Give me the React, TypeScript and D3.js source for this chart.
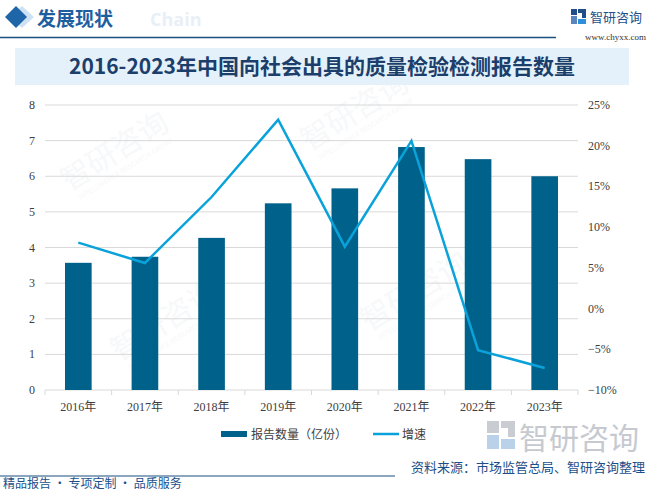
import React from "react";
import * as d3 from "d3";

const categories = ["2016年", "2017年", "2018年", "2019年", "2020年", "2021年", "2022年", "2023年"];
const reportCounts = [3.57, 3.74, 4.27, 5.24, 5.66, 6.82, 6.48, 6.0];
const growthRates = [8.1, 5.6, 13.7, 23.2, 7.6, 20.6, -5.1, -7.3];
const leftTicks = [0, 1, 2, 3, 4, 5, 6, 7, 8];
const rightTicks = [-10, -5, 0, 5, 10, 15, 20, 25];
const seriesNames = ["报告数量（亿份）", "增速"];

const W = 649;
const H = 493;
const BAR = "#00628a";
const LINE = "#0aa2da";
const NAVY = "#1b4f80";
const CJK = "'Noto Sans CJK SC', 'Noto Sans', sans-serif";
const AXISFONT = "'Liberation Serif', 'Noto Sans CJK SC', serif";

export default function App() {
  const x = d3.scaleBand<string>().domain(categories).range([45, 578]).paddingInner(0.6).paddingOuter(0.3);
  const yL = d3.scaleLinear().domain([0, 8]).range([390, 105]);
  const yR = d3.scaleLinear().domain([-10, 25]).range([390, 105]);
  const step = x.step();
  const line = d3
    .line<number>()
    .x((_, i) => (x(categories[i]) as number) + x.bandwidth() / 2)
    .y((d) => yR(d));

  const watermarks = [
    [120, 160], [360, 120], [170, 330], [420, 300],
  ];

  return (
    <svg width={W} height={H} style={{ position: "absolute", left: 0, top: 0, background: "#fff" }}>
      {/* watermarks */}
      {watermarks.map(([wx, wy], i) => (
        <g key={i} transform={`translate(${wx},${wy}) rotate(-32)`} opacity={0.45}>
          <text fontFamily={CJK} fontSize={30} fill="#eef1f5" textAnchor="middle">智研咨询</text>
          <text y={13} fontFamily={CJK} fontSize={7} fill="#eef1f5" textAnchor="middle">INTELLIGENCE RESEARCH GROUP</text>
        </g>
      ))}

      {/* header */}
      <g>
        <path d="M22,6 L34,17 L22,28 L10,17 Z" fill="#cfe2f3" />
        <path d="M16,6 L27,17 L16,28 L5,17 Z" fill="#1f66a8" />
        <text x={150} y={26} fontFamily="'Open Sans', sans-serif" fontWeight={700} fontSize={18} fill="#e9eff6">Chain</text>
        <text x={37} y={26} fontFamily={CJK} fontWeight={700} fontSize={19} fill="#1f5e9e">发展现状</text>
        <line x1={0} x2={556} y1={37.5} y2={37.5} stroke={NAVY} strokeWidth={1.5} />
        {/* logo */}
        <g transform="translate(571,9)">
          <rect x={0} y={0} width={6} height={6} fill="#1f4f86" />
          <rect x={0} y={7} width={6} height={8} fill="#5a86bd" />
          <rect x={7} y={0} width={8} height={4} fill="#1f4f86" />
          <rect x={11} y={4} width={4} height={5} fill="#1f4f86" />
          <rect x={7} y={10} width={8} height={5} fill="#2f8fd8" />
        </g>
        <text x={590} y={22} fontFamily={CJK} fontSize={13} fill="#1f4f86">智研咨询</text>
        <text x={646} y={40} textAnchor="end" fontFamily={AXISFONT} fontSize={9} fill="#333">www.chyxx.com</text>
      </g>

      {/* title */}
      <rect x={15} y={48} width={614} height={37} fill="#e5f1fa" />
      <text x={322} y={74} textAnchor="middle" fontFamily={CJK} fontWeight={700} fontSize={21} fill="#1c3e6b">
        2016-2023年中国向社会出具的质量检验检测报告数量
      </text>

      {/* gridlines */}
      {leftTicks.map((t) => (
        <line key={t} x1={45} x2={578} y1={yL(t)} y2={yL(t)} stroke="#d9d9d9" strokeWidth={1} />
      ))}
      {/* x tick marks */}
      {d3.range(categories.length + 1).map((i) => (
        <line key={i} x1={45 + i * step} x2={45 + i * step} y1={390} y2={395} stroke="#d9d9d9" />
      ))}

      {/* left axis labels */}
      {leftTicks.map((t) => (
        <text key={t} x={35} y={yL(t) + 4} textAnchor="end" fontFamily={AXISFONT} fontSize={12} fill="#404040">
          {t}
        </text>
      ))}
      {/* right axis labels */}
      {rightTicks.map((t) => (
        <text key={t} x={588} y={yR(t) + 4} textAnchor="start" fontFamily={AXISFONT} fontSize={12} fill="#404040">
          {t < 0 ? `−${Math.abs(t)}%` : `${t}%`}
        </text>
      ))}
      {/* x labels */}
      {categories.map((c) => (
        <text key={c} x={(x(c) as number) + x.bandwidth() / 2} y={411} textAnchor="middle" fontFamily={AXISFONT} fontSize={12} fill="#404040">
          {c}
        </text>
      ))}

      {/* bars */}
      {reportCounts.map((v, i) => (
        <rect key={i} x={x(categories[i])} y={yL(v)} width={x.bandwidth()} height={yL(0) - yL(v)} fill={BAR} />
      ))}

      {/* line */}
      <path d={line(growthRates) || ""} fill="none" stroke={LINE} strokeWidth={2.5} strokeLinejoin="miter" />

      {/* legend */}
      <rect x={221} y={431} width={26} height={6} fill={BAR} />
      <text x={251} y={439} fontFamily={CJK} fontSize={12} fill="#404040">{seriesNames[0]}</text>
      <line x1={373} x2={399} y1={434} y2={434} stroke={LINE} strokeWidth={2.5} />
      <text x={402} y={439} fontFamily={CJK} fontSize={12} fill="#404040">{seriesNames[1]}</text>

      {/* bottom logo watermark */}
      <g transform="translate(487,421)" fill="#c9cdd3">
        <rect x={0} y={0} width={12} height={12} />
        <rect x={0} y={14} width={12} height={14} fill="#b9d2ea" />
        <rect x={14} y={0} width={14} height={7} />
        <rect x={21} y={7} width={7} height={9} />
        <rect x={14} y={18} width={14} height={10} fill="#b9d2ea" />
      </g>
      <text x={519} y={449} fontFamily={CJK} fontSize={30} fill="#c6cad0">智研咨询</text>

      {/* footer */}
      <line x1={0} x2={395} y1={476} y2={476} stroke={NAVY} strokeWidth={1.2} />
      <text x={645} y={472} textAnchor="end" fontFamily={CJK} fontSize={13} fill="#1b4f8a">资料来源：市场监管总局、智研咨询整理</text>
      <text x={3} y={488} fontFamily={CJK} fontSize={12} fill="#1b4f8a">精品报告 · 专项定制 · 品质服务</text>
    </svg>
  );
}
